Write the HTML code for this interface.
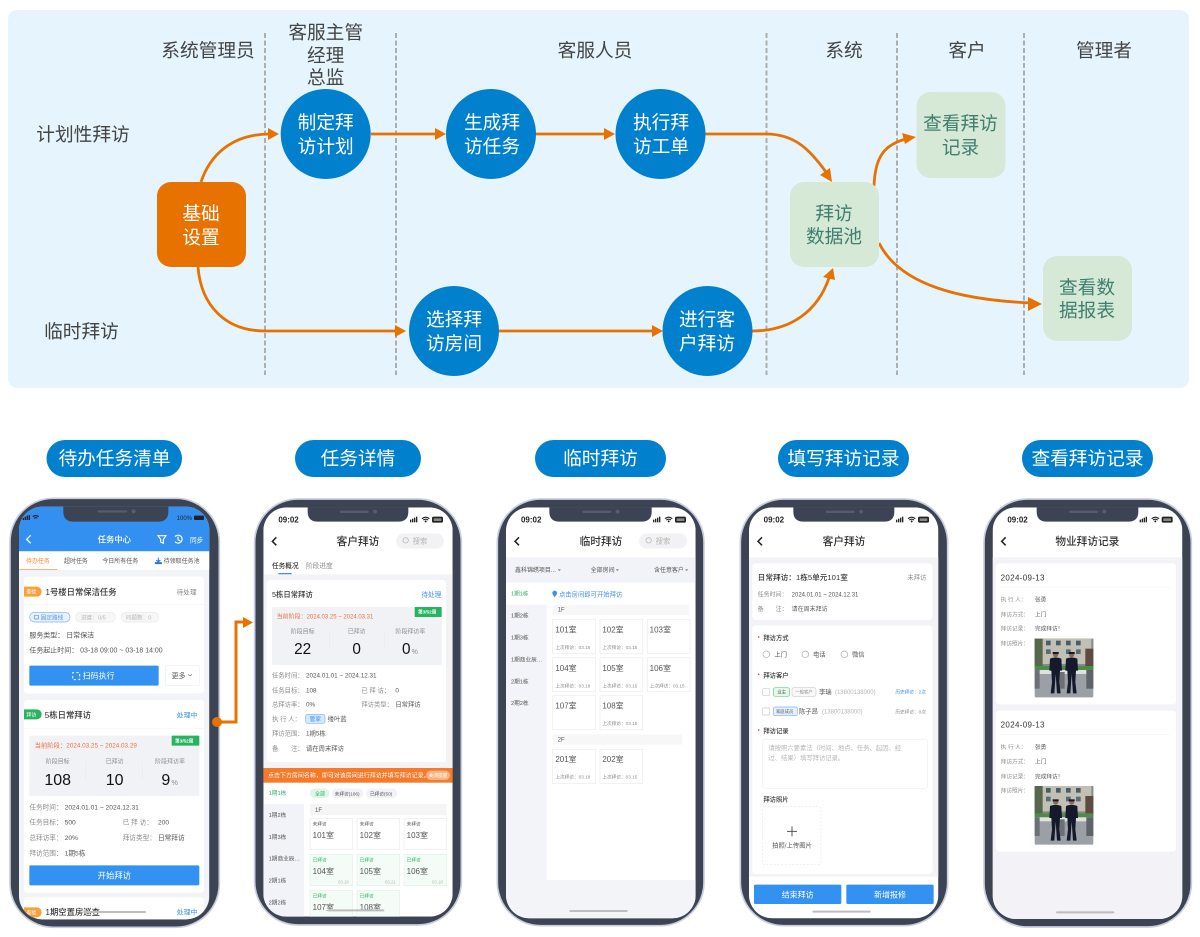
<!DOCTYPE html>
<html lang="zh-CN">
<head>
<meta charset="utf-8">
<title>客户拜访流程</title>
<style>
html,body{margin:0;padding:0;background:#fff}
svg{display:block}
text{font-family:"Liberation Sans","Noto Sans CJK SC",sans-serif}
.d{fill:#333}.m{fill:#555}.g{fill:#8c8c8c}.l{fill:#b5b5b5}.w{fill:#fff}.b{fill:#3d8ff0}.gr{fill:#2fb163}.o{fill:#f0703f}
.c{text-anchor:middle}.s{font-weight:500}
.h{fill:#444;font-size:18.7px;text-anchor:middle}
.n{fill:#fff;font-size:18.7px;text-anchor:middle}
.t{fill:#3f7f6f;font-size:18.7px;text-anchor:middle}
.p{fill:none;stroke:#e87200;stroke-width:2.8}
.a{fill:#e87200}
.dash{stroke:#aeaeae;stroke-width:2;stroke-dasharray:5 2.5}
.frame{fill:#3c4353;stroke:#c9cde0;stroke-width:5}
.chev{fill:none;stroke:#222;stroke-width:4.5}
.room{fill:#fff;stroke:#ececec;stroke-width:2}
.gn{fill:#f4fcf7;stroke:#e0f4e7;stroke-width:2}
.bar{fill:#bdbdbd}
.soft{filter:blur(.3px)}
</style>
</head>
<body>
<svg width="1200" height="937" viewBox="0 0 1200 937" xmlns="http://www.w3.org/2000/svg">
<defs>
<g id="st">
<rect x="0" y="9" width="4" height="8" fill="#222"/><rect x="6" y="6" width="4" height="11" fill="#222"/><rect x="12" y="3" width="4" height="14" fill="#222"/><rect x="18" y="0" width="4" height="17" fill="#222"/>
<path d="M36 6q11-9 22 0M40 10q7-5 14 0" fill="none" stroke="#222" stroke-width="3.5"/><circle cx="47" cy="14" r="3" fill="#222"/>
<rect x="66" y="0" width="33" height="18" rx="5" fill="#222"/><rect x="71" y="5" width="23" height="8" fill="#888"/>
</g>
<g id="photo">
<rect width="176" height="176" rx="4" fill="#9aa0a5"/>
<rect width="176" height="84" fill="#7f8f86"/>
<rect x="20" y="0" width="150" height="76" fill="#c2bfb4"/>
<rect x="34" y="6" width="14" height="14" fill="#4a5b6b"/><rect x="64" y="6" width="14" height="14" fill="#4a5b6b"/><rect x="94" y="6" width="14" height="14" fill="#4a5b6b"/><rect x="124" y="6" width="14" height="14" fill="#4a5b6b"/>
<rect x="34" y="32" width="14" height="14" fill="#5a6b75"/><rect x="94" y="32" width="14" height="14" fill="#5a6b75"/><rect x="124" y="32" width="14" height="14" fill="#5a6b75"/>
<rect y="0" width="24" height="84" fill="#56684c"/><rect x="152" y="30" width="24" height="60" fill="#5d4a40"/>
<rect y="82" width="176" height="12" fill="#4f8a4a"/>
<rect x="8" y="94" width="160" height="12" fill="#dfe2de"/>
<rect x="0" y="94" width="15" height="56" fill="#6c7074"/><rect x="75" y="100" width="15" height="50" fill="#6c7074"/><rect x="155" y="94" width="21" height="56" fill="#5e6367"/>
<circle cx="63" cy="48" r="8" fill="#8a6a55"/><rect x="54" y="40" width="18" height="6" fill="#14182a"/>
<path d="M46 60q17-7 34 0l2 36h-6l-2 34 4 34h-11l-4-58-4 58h-11l4-34-2-34h-6z" fill="#141a2b"/>
<circle cx="111" cy="48" r="8" fill="#8a6a55"/><rect x="102" y="40" width="18" height="6" fill="#14182a"/>
<path d="M94 60q17-7 34 0l2 36h-6l-2 34 4 34h-11l-4-58-4 58h-11l4-34-2-34h-6z" fill="#141a2b"/>
</g>
<clipPath id="c1"><rect x="57" y="50" width="571" height="1238" rx="70"/></clipPath>
<clipPath id="c2"><rect x="70" y="52" width="568" height="1228" rx="70"/></clipPath>
<clipPath id="c3"><rect x="63" y="52" width="569" height="1233" rx="70"/></clipPath>
<clipPath id="c4"><rect x="72" y="52" width="568" height="1233" rx="70"/></clipPath>
<clipPath id="c5"><rect x="83" y="52" width="569" height="1235" rx="70"/></clipPath>
</defs>

<!-- top panel -->
<rect x="8" y="10" width="1181" height="378" rx="9" fill="#e6f5fd"/>
<g class="dash">
<line x1="265" y1="33" x2="265" y2="375"/><line x1="396" y1="33" x2="396" y2="375"/><line x1="766.5" y1="33" x2="766.5" y2="375"/><line x1="897" y1="33" x2="897" y2="375"/><line x1="1024" y1="33" x2="1024" y2="375"/>
</g>
<text class="h" x="208" y="57">系统管理员</text>
<text class="h" x="325.7" y="39">客服主管</text><text class="h" x="325.7" y="62">经理</text><text class="h" x="325.7" y="84">总监</text>
<text class="h" x="595" y="57">客服人员</text>
<text class="h" x="844" y="57">系统</text>
<text class="h" x="967" y="57">客户</text>
<text class="h" x="1104" y="57">管理者</text>
<text class="h" x="83" y="141">计划性拜访</text>
<text class="h" x="81.5" y="338">临时拜访</text>

<!-- connectors -->
<path class="p" d="M201 182C210 155 232 134 270 134"/>
<path class="a" d="M279 134L268 128V140Z"/>
<path class="p" d="M198 267C201 305 225 331 265 331H397"/>
<path class="a" d="M406 331L395 325V337Z"/>
<path class="p" d="M371 134H436"/><path class="a" d="M446 134L435 128V140Z"/>
<path class="p" d="M536 134H606"/><path class="a" d="M615 134L604 128V140Z"/>
<path class="p" d="M705 134H766C795 134 810 150 826 172"/><path class="a" d="M832 182L820 175L830 168Z"/>
<path class="p" d="M499 331H654"/><path class="a" d="M663 331L652 325V337Z"/>
<path class="p" d="M752 331C792 331 818 310 829 278"/><path class="a" d="M833 268L835 280L823 277Z"/>
<path class="p" d="M874 186C875 160 882 145 906 139"/><path class="a" d="M916 137L905 144L902 133Z"/>
<path class="p" d="M879 243C900 285 960 300 1032 303"/><path class="a" d="M1042 304L1028 297V311Z"/>

<!-- nodes -->
<rect x="157" y="182" width="89" height="85" rx="14" fill="#e87200"/>
<text class="n" x="201" y="220">基础</text><text class="n" x="201" y="244">设置</text>
<g fill="#0080cd">
<circle cx="325.7" cy="134" r="45"/><circle cx="491" cy="134" r="45"/><circle cx="660.5" cy="134" r="45"/><circle cx="454" cy="331" r="45"/><circle cx="707.5" cy="331" r="45"/>
</g>
<text class="n" x="325.7" y="129">制定拜</text><text class="n" x="325.7" y="153">访计划</text>
<text class="n" x="492" y="129">生成拜</text><text class="n" x="492" y="153">访任务</text>
<text class="n" x="661" y="129">执行拜</text><text class="n" x="661" y="153">访工单</text>
<text class="n" x="454" y="326">选择拜</text><text class="n" x="454" y="350">访房间</text>
<text class="n" x="707" y="326">进行客</text><text class="n" x="707" y="350">户拜访</text>
<g fill="#d5e9d6">
<rect x="790" y="182" width="89" height="85" rx="14"/><rect x="916.5" y="92" width="89" height="86" rx="14"/><rect x="1043" y="256" width="89" height="85" rx="14"/>
</g>
<text class="t" x="834" y="220">拜访</text><text class="t" x="834" y="243">数据池</text>
<text class="t" x="960.5" y="130">查看拜访</text><text class="t" x="960.5" y="154">记录</text>
<text class="t" x="1087" y="294">查看数</text><text class="t" x="1087" y="317">据报表</text>

<!-- pills -->
<g fill="#0080cd">
<rect x="46.5" y="440" width="135.5" height="37" rx="18.5"/><rect x="295" y="440" width="126" height="37" rx="18.5"/><rect x="535" y="440" width="131" height="37" rx="18.5"/><rect x="778" y="440" width="131" height="37" rx="18.5"/><rect x="1022" y="440" width="131" height="37" rx="18.5"/>
</g>
<text class="n" x="114.5" y="465">待办任务清单</text>
<text class="n" x="358" y="465">任务详情</text>
<text class="n" x="600.5" y="465">临时拜访</text>
<text class="n" x="843.5" y="465">填写拜访记录</text>
<text class="n" x="1087.5" y="465">查看拜访记录</text>

<g class="soft">
<!-- PHONE 1 -->
<g transform="translate(0,490) scale(.33333)">
<rect class="frame" x="30" y="25" width="628" height="1287" rx="130"/>
<g clip-path="url(#c1)">
<rect x="57" y="50" width="571" height="1238" fill="#f3f4f8"/>
<rect x="57" y="50" width="571" height="134" fill="#3390f0"/>
<rect x="57" y="184" width="571" height="56" fill="#fff"/>
<rect x="68" y="84" width="4" height="6" fill="#222"/><rect x="74" y="80" width="4" height="10" fill="#222"/><rect x="80" y="77" width="4" height="13" fill="#222"/><rect x="86" y="75" width="4" height="15" fill="#222"/>
<path d="M98 80q9-7 18 0M102 85q5-4 10 0" fill="none" stroke="#222" stroke-width="3.5"/>
<text x="530" y="90" font-size="18" fill="#222">100%</text>
<rect x="582" y="77" width="30" height="13" rx="3" fill="#222"/>
<path d="M92 136L80 148L92 160" fill="none" stroke="#fff" stroke-width="4"/>
<text class="w c s" x="343" y="158" font-size="25">任务中心</text>
<path d="M474 137H498L490 148V160L482 156V148Z" fill="none" stroke="#fff" stroke-width="3.5"/>
<path d="M525 140A12 12 0 1 1 525 155M534 140V149L541 153" fill="none" stroke="#fff" stroke-width="3.5"/>
<text class="w" x="570" y="158" font-size="20">同步</text>
<text x="78" y="219" font-size="18" fill="#f28a3c">待办任务</text>
<rect x="58" y="238" width="114" height="2" fill="#f28a3c"/>
<text class="m" x="192" y="219" font-size="18">超时任务</text>
<text class="m" x="307" y="219" font-size="18">今日所有任务</text>
<path d="M475 203V214M469 210L475 216L481 210M466 218H484V221H466Z" fill="none" stroke="#1e78e0" stroke-width="3"/>
<text class="m" x="491" y="219" font-size="18">待领取任务池</text>

<rect x="72" y="260" width="540" height="350" rx="10" fill="#fff"/>
<rect x="72" y="343" width="540" height="2" fill="#f3f3f3"/>
<path d="M72 290H110A15 15 0 0 1 110 320H72Z" fill="#f7a13b"/>
<text class="w" x="79" y="311" font-size="15">查验</text>
<text class="d s" x="136" y="315" font-size="25">1号楼日常保洁任务</text>
<text class="g" x="530" y="313" font-size="20">待处理</text>
<rect x="89" y="367" width="121" height="29" rx="14.5" fill="#e8f2fd" stroke="#7db1f2" stroke-width="2"/>
<rect x="103" y="376" width="13" height="11" rx="2" fill="none" stroke="#4d93ec" stroke-width="2"/>
<text x="122" y="388" font-size="17" fill="#4d93ec">固定路线</text>
<rect x="227" y="367" width="119" height="29" rx="14.5" fill="#f7f7f7" stroke="#e8e8e8" stroke-width="2"/>
<text class="l" x="243" y="388" font-size="17">进度：0/5</text>
<rect x="363" y="367" width="113" height="29" rx="14.5" fill="#f7f7f7" stroke="#e8e8e8" stroke-width="2"/>
<text class="l" x="377" y="388" font-size="17">问题数：0</text>
<text class="m" x="88" y="442" font-size="21">服务类型： 日常保洁</text>
<text class="m" x="88" y="488" font-size="21">任务起止时间： 03-18 09:00 ~ 03-18 14:00</text>
<rect x="88" y="527" width="388" height="60" rx="4" fill="#3391f2"/>
<rect x="218" y="548" width="21" height="21" fill="none" stroke="#fff" stroke-width="3" stroke-dasharray="7 7" stroke-dashoffset="3"/>
<text class="w" x="248" y="566" font-size="24">扫码执行</text>
<rect x="496" y="527" width="102" height="60" rx="4" fill="#fff" stroke="#eee" stroke-width="2"/>
<text class="m" x="515" y="564" font-size="21">更多</text>
<path d="M564 553L570 558L576 553" fill="none" stroke="#777" stroke-width="2"/>

<rect x="72" y="630" width="540" height="578" rx="10" fill="#fff"/>
<rect x="72" y="714" width="540" height="2" fill="#f5f5f5"/>
<path d="M72 658H110A15 15 0 0 1 110 688H72Z" fill="#2db360"/>
<text class="w" x="79" y="679" font-size="15">拜访</text>
<text class="d s" x="134" y="684" font-size="25">5栋日常拜访</text>
<text class="b" x="530" y="682" font-size="21">处理中</text>
<rect x="88" y="737" width="510" height="181" rx="4" fill="#f1f2f6"/>
<rect x="515" y="737" width="83" height="30" rx="2" fill="#27b35f"/>
<text class="w" x="525" y="757" font-size="14" font-weight="700">第3/52周</text>
<text class="o" x="104" y="772" font-size="19">当前阶段：2024.03.25 ~ 2024.03.29</text>
<text class="g c" x="173" y="820" font-size="18">阶段目标</text>
<text class="g c" x="344" y="820" font-size="18">已拜访</text>
<text class="g c" x="510" y="820" font-size="18">阶段拜访率</text>
<rect x="256" y="815" width="1" height="55" fill="#e2e2e6"/><rect x="428" y="815" width="1" height="55" fill="#e2e2e6"/>
<text x="173" y="885" class="c" font-size="48" fill="#111">108</text>
<text x="344" y="885" class="c" font-size="48" fill="#111">10</text>
<text x="484" y="885" font-size="48" fill="#111">9</text><text class="g" x="514" y="885" font-size="22">%</text>
<g font-size="20">
<text class="g" x="88" y="958">任务时间：</text><text class="m" x="194" y="958">2024.01.01 ~ 2024.12.31</text>
<text class="g" x="88" y="1004">任务目标：</text><text class="m" x="194" y="1004">500</text>
<text class="g" x="368" y="1004">已 拜 访：</text><text class="m" x="474" y="1004">200</text>
<text class="g" x="88" y="1050">总拜访率：</text><text class="m" x="194" y="1050">20%</text>
<text class="g" x="368" y="1050">拜访类型：</text><text class="m" x="474" y="1050">日常拜访</text>
<text class="g" x="88" y="1096">拜访范围：</text><text class="m" x="194" y="1096">1期5栋</text>
</g>
<rect x="88" y="1126" width="510" height="60" rx="4" fill="#3391f2"/>
<text class="w c" x="343" y="1165" font-size="25">开始拜访</text>

<rect x="72" y="1222" width="540" height="90" rx="10" fill="#fff"/>
<path d="M72 1252H110A15 15 0 0 1 110 1282H72Z" fill="#f7a13b"/>
<text class="w" x="79" y="1273" font-size="15">查验</text>
<text class="d s" x="136" y="1275" font-size="25">1期空置房巡查</text>
<text class="b" x="530" y="1274" font-size="21">处理中</text>
<rect class="bar" x="250" y="1263" width="188" height="6" rx="3"/>
</g>
<path d="M190 50v15q0 30 30 30h255q30 0 30-30v-15z" fill="#3c4353"/>
<rect x="292" y="61" width="90" height="7" rx="3.5" fill="#555c6c"/><circle cx="401" cy="64" r="6" fill="#555c6c"/>
</g>

<!-- PHONE 2 -->
<g transform="translate(240,490) scale(.33333)">
<rect class="frame" x="44" y="27" width="620" height="1278" rx="130"/>
<g clip-path="url(#c2)">
<rect x="70" y="52" width="568" height="1228" fill="#fff"/>
<text x="115" y="97" font-size="24" font-weight="700" fill="#222">09:02</text>
<use href="#st" x="510" y="80"/>
<path class="chev" d="M109 142L97 154L109 166"/>
<text class="d c s" x="354" y="165" font-size="32">客户拜访</text>
<rect x="468" y="130" width="144" height="46" rx="23" fill="#f2f2f4"/>
<circle cx="497" cy="151" r="8" fill="none" stroke="#bbb" stroke-width="2.5"/>
<text class="l" x="518" y="160" font-size="22">搜索</text>
<text class="d s" x="96" y="234" font-size="20">任务概况</text>
<text class="g" x="198" y="234" font-size="20">阶段进度</text>
<rect x="115" y="249" width="40" height="4" fill="#3391f2"/>
<rect x="70" y="253" width="568" height="582" fill="#f2f3f7"/>
<rect x="80" y="270" width="538" height="546" rx="10" fill="#fff"/>
<text class="d s" x="96" y="321" font-size="22">5栋日常拜访</text>
<text class="b" x="544" y="321" font-size="20">待处理</text>
<rect x="96" y="351" width="509" height="174" rx="4" fill="#f1f2f6"/>
<rect x="524" y="351" width="81" height="30" rx="2" fill="#27b35f"/>
<text class="w" x="534" y="371" font-size="14" font-weight="700">第3/52周</text>
<text class="o" x="110" y="385" font-size="18">当前阶段：2024.03.25 ~ 2024.03.31</text>
<text class="g c" x="188" y="431" font-size="18">阶段目标</text>
<text class="g c" x="350" y="431" font-size="18">已拜访</text>
<text class="g c" x="511" y="431" font-size="18">阶段拜访率</text>
<rect x="268" y="426" width="1" height="50" fill="#e2e2e6"/><rect x="433" y="426" width="1" height="50" fill="#e2e2e6"/>
<text class="c" x="188" y="492" font-size="46" fill="#111">22</text>
<text class="c" x="350" y="492" font-size="46" fill="#111">0</text>
<text x="486" y="492" font-size="46" fill="#111">0</text><text class="g" x="515" y="492" font-size="21">%</text>
<g font-size="19">
<text class="g" x="96" y="563">任务时间：</text><text class="m" x="198" y="563">2024.01.01 ~ 2024.12.31</text>
<text class="g" x="96" y="607">任务目标：</text><text class="m" x="198" y="607">108</text>
<text class="g" x="364" y="607">已 拜 访：</text><text class="m" x="466" y="607">0</text>
<text class="g" x="96" y="650">总拜访率：</text><text class="m" x="198" y="650">0%</text>
<text class="g" x="364" y="650">拜访类型：</text><text class="m" x="466" y="650">日常拜访</text>
<text class="g" x="96" y="693">执 行 人：</text>
<rect x="197" y="673" width="58" height="27" rx="6" fill="#d5e8fd" stroke="#7ab4f5" stroke-width="2"/>
<text x="209" y="693" font-size="17" fill="#3d8ff0">管家</text>
<text class="m" x="263" y="693">缕叶蓝</text>
<text class="g" x="96" y="737">拜访范围：</text><text class="m" x="198" y="737">1期5栋</text>
<text class="g" x="96" y="781">备&#12288;&#12288;注：</text><text class="m" x="198" y="781">请在周末拜访</text>
</g>
<rect x="70" y="834" width="568" height="44" fill="#f57a2a"/>
<text class="w" x="84" y="862" font-size="18">点击下方房间名称，即可对该房间进行拜访并填写拜访记录。</text>
<rect x="558" y="842" width="72" height="28" rx="14" fill="#f9b283"/>
<text class="w" x="566" y="861" font-size="14">关闭提醒</text>
<rect x="70" y="942" width="122" height="340" fill="#f2f3f8"/>
<text class="gr" x="86" y="915" font-size="17">1期1栋</text>
<g font-size="17" class="m">
<text x="86" y="981">1期2栋</text><text x="86" y="1047">1期3栋</text><text x="86" y="1112">1期商业辰…</text><text x="86" y="1178">2期1栋</text><text x="86" y="1243">2期2栋</text>
</g>
<rect x="210" y="896" width="58" height="28" rx="14" fill="#dff5e6"/>
<text class="gr" x="225" y="916" font-size="15">全部</text>
<rect x="276" y="896" width="94" height="28" rx="14" fill="#f2f2f7"/>
<text class="m" x="284" y="916" font-size="14">未拜访(106)</text>
<rect x="378" y="896" width="94" height="28" rx="14" fill="#f2f2f7"/>
<text class="m" x="390" y="916" font-size="14">已拜访(50)</text>
<rect x="210" y="942" width="410" height="34" fill="#f5f5f5"/>
<text class="m" x="225" y="966" font-size="18">1F</text>
<rect class="room" x="210" y="985" width="128" height="94"/><rect class="room" x="351" y="985" width="128" height="94"/><rect class="room" x="492" y="985" width="128" height="94"/>
<rect class="gn" x="210" y="1093" width="128" height="94"/><rect class="gn" x="351" y="1093" width="128" height="94"/><rect class="gn" x="492" y="1093" width="128" height="94"/>
<rect class="gn" x="210" y="1201" width="128" height="94"/><rect class="gn" x="351" y="1201" width="128" height="94"/>
<g font-size="14" class="m">
<text x="218" y="1007">未拜访</text><text x="359" y="1007">未拜访</text><text x="500" y="1007">未拜访</text>
</g>
<g font-size="14" class="gr">
<text x="218" y="1115">已拜访</text><text x="359" y="1115">已拜访</text><text x="500" y="1115">已拜访</text>
<text x="218" y="1223">已拜访</text><text x="359" y="1223">已拜访</text>
</g>
<g font-size="24" class="m">
<text x="218" y="1044">101室</text><text x="359" y="1044">102室</text><text x="500" y="1044">103室</text>
<text x="218" y="1152">104室</text><text x="359" y="1152">105室</text><text x="500" y="1152">106室</text>
<text x="218" y="1260">107室</text><text x="359" y="1260">108室</text>
</g>
<g font-size="13" class="l">
<text x="294" y="1181">03.18</text><text x="435" y="1181">03.21</text><text x="576" y="1181">03.18</text>
</g>
<rect class="bar" x="263" y="1258" width="170" height="6" rx="3"/>
</g>
<path d="M203 52v13q0 30 30 30h242q30 0 30-30v-13z" fill="#3c4353"/>
<rect x="299" y="62" width="87" height="7" rx="3.5" fill="#555c6c"/><circle cx="405" cy="65" r="6" fill="#555c6c"/>
</g>

<!-- PHONE 3 -->
<g transform="translate(485,490) scale(.33333)">
<rect class="frame" x="37" y="27" width="620" height="1280" rx="130"/>
<g clip-path="url(#c3)">
<rect x="63" y="52" width="569" height="1233" fill="#fff"/>
<text x="108" y="97" font-size="24" font-weight="700" fill="#222">09:02</text>
<use href="#st" x="504" y="80"/>
<path class="chev" d="M102 142L90 154L102 166"/>
<text class="d c s" x="348" y="165" font-size="32">临时拜访</text>
<rect x="462" y="130" width="144" height="46" rx="23" fill="#f2f2f4"/>
<circle cx="491" cy="151" r="8" fill="none" stroke="#bbb" stroke-width="2.5"/>
<text class="l" x="512" y="160" font-size="22">搜索</text>
<rect x="63" y="202" width="569" height="76" fill="#f2f3f8"/>
<g font-size="18" class="m">
<text x="90" y="246">鑫科锦绣项目...</text><text x="317" y="246">全部房间</text><text x="507" y="246">含任意客户</text>
</g>
<path d="M218 238h10l-5 5zM392 238h10l-5 5zM600 238h10l-5 5z" fill="#777"/>
<rect x="63" y="344" width="122" height="826" fill="#f3f4f9"/>
<text class="gr" x="78" y="317" font-size="17">1期1栋</text>
<g font-size="17" class="m">
<text x="78" y="383">1期2栋</text><text x="78" y="449">1期3栋</text><text x="78" y="515">1期商业辰…</text><text x="78" y="580">2期1栋</text><text x="78" y="645">2期2栋</text>
</g>
<path d="M209 322c-4-6-7-9-7-13a7 7 0 0 1 14 0c0 4-3 7-7 13z" fill="#3d8ff0"/>
<text class="b" x="222" y="319" font-size="19">点击房间即可开始拜访</text>
<rect x="203" y="345" width="409" height="30" fill="#f7f7f7"/>
<text class="m" x="218" y="365" font-size="18">1F</text>
<rect class="room" x="203" y="388" width="129" height="102"/><rect class="room" x="345" y="388" width="128" height="102"/><rect class="room" x="487" y="388" width="128" height="102"/>
<rect class="room" x="203" y="503" width="129" height="102"/><rect class="room" x="345" y="503" width="128" height="102"/><rect class="room" x="487" y="503" width="128" height="102"/>
<rect class="room" x="203" y="617" width="129" height="102"/><rect class="room" x="345" y="617" width="128" height="102"/>
<rect x="203" y="733" width="389" height="31" fill="#f7f7f7"/>
<text class="m" x="218" y="754" font-size="18">2F</text>
<rect class="room" x="203" y="778" width="129" height="102"/><rect class="room" x="345" y="778" width="128" height="102"/>
<g font-size="24" class="m">
<text x="211" y="427">101室</text><text x="352" y="427">102室</text><text x="494" y="427">103室</text>
<text x="211" y="543">104室</text><text x="352" y="543">105室</text><text x="494" y="543">106室</text>
<text x="211" y="656">107室</text><text x="352" y="656">108室</text>
<text x="211" y="816">201室</text><text x="352" y="816">202室</text>
</g>
<g font-size="14" class="g">
<text x="211" y="477">上次拜访：03.18</text><text x="352" y="477">上次拜访：03.15</text>
<text x="211" y="592">上次拜访：03.18</text><text x="352" y="592">上次拜访：03.15</text><text x="494" y="592">上次拜访：03.15</text>
<text x="352" y="705">上次拜访：03.15</text>
<text x="211" y="866">上次拜访：03.18</text><text x="352" y="866">上次拜访：03.15</text>
</g>
<rect x="63" y="1170" width="569" height="115" fill="#f3f4f8"/>
<rect class="bar" x="253" y="1260" width="175" height="6" rx="3"/>
</g>
<path d="M193 52v13q0 30 30 30h247q30 0 30-30v-13z" fill="#3c4353"/>
<rect x="292" y="62" width="87" height="7" rx="3.5" fill="#555c6c"/><circle cx="398" cy="65" r="6" fill="#555c6c"/>
</g>

<!-- PHONE 4 -->
<g transform="translate(725,490) scale(.33333)">
<rect class="frame" x="46" y="27" width="622" height="1280" rx="130"/>
<g clip-path="url(#c4)">
<rect x="72" y="52" width="568" height="1233" fill="#fff"/>
<text x="116" y="97" font-size="24" font-weight="700" fill="#222">09:02</text>
<use href="#st" x="513" y="80"/>
<path class="chev" d="M111 142L99 154L111 166"/>
<text class="d c s" x="357" y="165" font-size="32">客户拜访</text>
<rect x="72" y="202" width="568" height="958" fill="#f2f3f7"/>
<rect x="82" y="220" width="540" height="170" rx="10" fill="#fff"/>
<text class="d s" x="98" y="270" font-size="23">日常拜访：1栋5单元101室</text>
<text class="g" x="547" y="268" font-size="19">未拜访</text>
<text class="g" x="98" y="319" font-size="18">任务时间：</text><text class="m" x="200" y="319" font-size="18">2024.01.01 ~ 2024.12.31</text>
<text class="g" x="98" y="363" font-size="18">备&#12288;&#12288;注：</text><text class="m" x="200" y="363" font-size="18">请在周末拜访</text>
<rect x="82" y="406" width="540" height="746" rx="10" fill="#fff"/>
<g font-size="19">
<circle cx="101" cy="441" r="2.5" fill="#f0413c"/><text class="d s" x="115" y="450">拜访方式</text>
<circle cx="101" cy="553" r="2.5" fill="#f0413c"/><text class="d s" x="115" y="562">拜访客户</text>
<circle cx="101" cy="720" r="2.5" fill="#f0413c"/><text class="d s" x="115" y="729">拜访记录</text>
<text class="d s" x="115" y="934">拜访照片</text>
<text class="m" x="148" y="500">上门</text><text class="m" x="264" y="500">电话</text><text class="m" x="381" y="500">微信</text>
</g>
<g fill="none" stroke="#aaa" stroke-width="2"><circle cx="124" cy="493" r="10"/><circle cx="241" cy="493" r="10"/><circle cx="358" cy="493" r="10"/></g>
<rect x="113" y="596" width="21" height="21" rx="2" fill="#fff" stroke="#ccc" stroke-width="2"/>
<rect x="145" y="593" width="49" height="26" rx="6" fill="#e6f7ec" stroke="#66cc8a" stroke-width="2"/>
<text class="m" x="157" y="611" font-size="13">业主</text>
<rect x="201" y="593" width="72" height="26" rx="6" fill="#f8f8f8" stroke="#ccc" stroke-width="2"/>
<text class="g" x="211" y="611" font-size="13">一般客户</text>
<text class="m" x="282" y="612" font-size="19">李瑞</text>
<text class="l" x="330" y="612" font-size="18">(13800138000)</text>
<text class="b" x="511" y="611" font-size="14">历史拜访：2次</text>
<rect x="113" y="654" width="21" height="21" rx="2" fill="#fff" stroke="#ccc" stroke-width="2"/>
<rect x="145" y="651" width="72" height="26" rx="6" fill="#e6f1fd" stroke="#7ab4f5" stroke-width="2"/>
<text class="m" x="153" y="669" font-size="13">家庭成员</text>
<text class="m" x="222" y="671" font-size="19">陈子昂</text>
<text class="l" x="291" y="671" font-size="18">(13800138000)</text>
<text class="g" x="511" y="670" font-size="14">历史拜访：0次</text>
<rect x="113" y="748" width="495" height="147" rx="8" fill="#fff" stroke="#eee" stroke-width="2"/>
<text class="l" x="130" y="780" font-size="19">请按照六要素法（时间、地点、任务、起因、经</text>
<text class="l" x="130" y="810" font-size="19">过、结果）填写拜访记录。</text>
<rect x="113" y="950" width="175" height="174" rx="6" fill="#fff" stroke="#e5e5e5" stroke-width="2" stroke-dasharray="6 5"/>
<path d="M186 1024H216M201 1009V1039" stroke="#555" stroke-width="3"/>
<text class="m c" x="201" y="1073" font-size="19">拍照/上传图片</text>
<rect x="87" y="1184" width="262" height="58" rx="4" fill="#3391f2"/>
<rect x="364" y="1184" width="262" height="58" rx="4" fill="#3391f2"/>
<text class="w c" x="218" y="1222" font-size="24">结束拜访</text>
<text class="w c" x="495" y="1222" font-size="24">新增报修</text>
<rect class="bar" x="262" y="1262" width="175" height="6" rx="3"/>
</g>
<path d="M205 52v13q0 30 30 30h243q30 0 30-30v-13z" fill="#3c4353"/>
<rect x="302" y="62" width="87" height="7" rx="3.5" fill="#555c6c"/><circle cx="408" cy="65" r="6" fill="#555c6c"/>
</g>

<!-- PHONE 5 -->
<g transform="translate(965,490) scale(.33333)">
<rect class="frame" x="57" y="27" width="622" height="1284" rx="130"/>
<g clip-path="url(#c5)">
<rect x="83" y="52" width="569" height="1235" fill="#fff"/>
<text x="127" y="97" font-size="24" font-weight="700" fill="#222">09:02</text>
<use href="#st" x="524" y="80"/>
<path class="chev" d="M122 142L110 154L122 166"/>
<text class="d c s" x="367" y="165" font-size="32">物业拜访记录</text>
<rect x="83" y="202" width="569" height="1085" fill="#f2f2f7"/>
<rect x="93" y="220" width="540" height="423" rx="10" fill="#fff"/>
<rect x="93" y="662" width="540" height="423" rx="10" fill="#fff"/>
<rect x="107" y="292" width="511" height="2" fill="#f4f4f4"/>
<rect x="107" y="733" width="511" height="2" fill="#f4f4f4"/>
<text x="107" y="271" font-size="24" fill="#333" letter-spacing="1">2024-09-13</text>
<text x="107" y="712" font-size="24" fill="#333" letter-spacing="1">2024-09-13</text>
<g font-size="17">
<text class="g" x="107" y="335">执 行 人：</text><text class="m" x="210" y="335">张勇</text>
<text class="g" x="107" y="379">拜访方式：</text><text class="m" x="210" y="379">上门</text>
<text class="g" x="107" y="422">拜访记录：</text><text class="m" x="210" y="422">完成拜访！</text>
<text class="g" x="107" y="466">拜访照片：</text>
<text class="g" x="107" y="777">执 行 人：</text><text class="m" x="210" y="777">张勇</text>
<text class="g" x="107" y="821">拜访方式：</text><text class="m" x="210" y="821">上门</text>
<text class="g" x="107" y="865">拜访记录：</text><text class="m" x="210" y="865">完成拜访！</text>
<text class="g" x="107" y="908">拜访照片：</text>
</g>
<use href="#photo" x="209" y="446"/>
<use href="#photo" x="209" y="888"/>
<rect class="bar" x="273" y="1264" width="175" height="6" rx="3"/>
</g>
<path d="M215 52v13q0 30 30 30h245q30 0 30-30v-13z" fill="#3c4353"/>
<rect x="312" y="62" width="87" height="7" rx="3.5" fill="#555c6c"/><circle cx="418" cy="65" r="6" fill="#555c6c"/>
</g>
</g>

<!-- link phone1 to phone2 (on top of the phone frames) -->
<path d="M217 722H236V622H245" fill="none" stroke="#e87200" stroke-width="3"/>
<circle cx="217" cy="722" r="5" fill="#e87200"/>
<path class="a" d="M253 622.5L243 617V628Z"/>
</svg>
</body>
</html>
